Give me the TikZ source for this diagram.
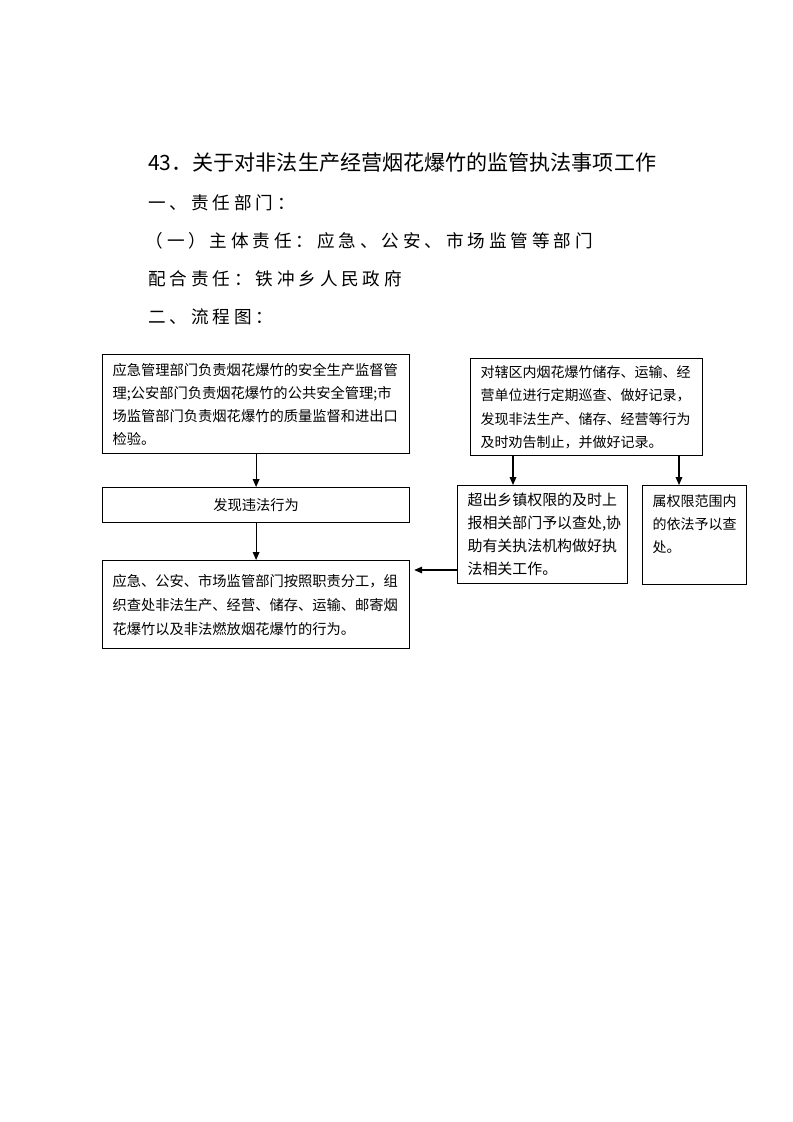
\documentclass[tikz,border=0pt]{standalone}
\usepackage{fontspec}
\setmainfont{Noto Sans CJK SC}
\usetikzlibrary{arrows.meta}

\begin{document}
\begin{tikzpicture}[x=0.75pt,y=-0.75pt,
	every node/.style={inner sep=0pt},
	box/.style={draw, line width=0.9pt, align=left, anchor=north west, inner xsep=7.5pt},
	arr/.style={line width=0.9pt, -{Triangle[length=6pt,width=5pt]}},
	head/.style={anchor=west, font=\fontsize{13.2}{13.2}\selectfont\addfontfeature{LetterSpace=22}}]
	\useasboundingbox (0,0) rectangle (793,1122);
	\node[anchor=west, font=\fontsize{15.8}{16}\selectfont] (title) at (148,163) {43．关于对非法生产经营烟花爆竹的监管执法事项工作};
	\node[head] (dept) at (148,203) {一、责任部门：};
	\node[head, xshift=-2pt] (main) at (148,241) {（一）主体责任：应急、公安、市场监管等部门};
	\node[head] (assist) at (148,279) {配合责任：铁冲乡人民政府};
	\node[head] (chart) at (148,317) {二、流程图：};
	\node[box, text width=215.25pt, minimum height=74.25pt, font=\fontsize{10.7}{17.25}\selectfont] (duty) at (102,354) {应急管理部门负责烟花爆竹的安全生产监督管\\理;公安部门负责烟花爆竹的公共安全管理;市\\场监管部门负责烟花爆竹的质量监督和进出口\\检验。};
	\node[box, text width=215.25pt, minimum height=26.25pt, align=center, font=\fontsize{10.7}{17.25}\selectfont] (find) at (102,487) {发现违法行为};
	\node[box, text width=215.25pt, minimum height=66pt, font=\fontsize{10.7}{18}\selectfont] (handle) at (102,560) {应急、公安、市场监管部门按照职责分工，组\\织查处非法生产、经营、储存、运输、邮寄烟\\花爆竹以及非法燃放烟花爆竹的行为。};
	\node[box, text width=159pt, minimum height=72.75pt, font=\fontsize{10.5}{17.6}\selectfont] (patrol) at (470,358) {对辖区内烟花爆竹储存、运输、经\\营单位进行定期巡查、做好记录，\\发现非法生产、储存、经营等行为\\及时劝告制止，并做好记录。};
	\node[box, text width=112.5pt, minimum height=73.5pt, font=\fontsize{11.2}{17.25}\selectfont] (report) at (457,485) {超出乡镇权限的及时上\\报相关部门予以查处,协\\助有关执法机构做好执\\法相关工作。};
	\node[box, text width=63pt, minimum height=74.25pt, font=\fontsize{10.5}{17.25}\selectfont] (local) at (642,485) {属权限范围内\\的依法予以查\\处。\\~};
	\coordinate (ecol) at (513,0);
	\coordinate (fcol) at (679,0);
	\coordinate (crow) at (0,570);
	\draw[arr] (duty) -- (find);
	\draw[arr] (find) -- (handle);
	\draw[arr] (patrol.south -| ecol) -- (report.north -| ecol);
	\draw[arr] (patrol.south -| fcol) -- (local.north -| fcol);
	\draw[arr] (report.west |- crow) -- ([xshift=3pt]handle.east |- crow);
\end{tikzpicture}
\end{document}
